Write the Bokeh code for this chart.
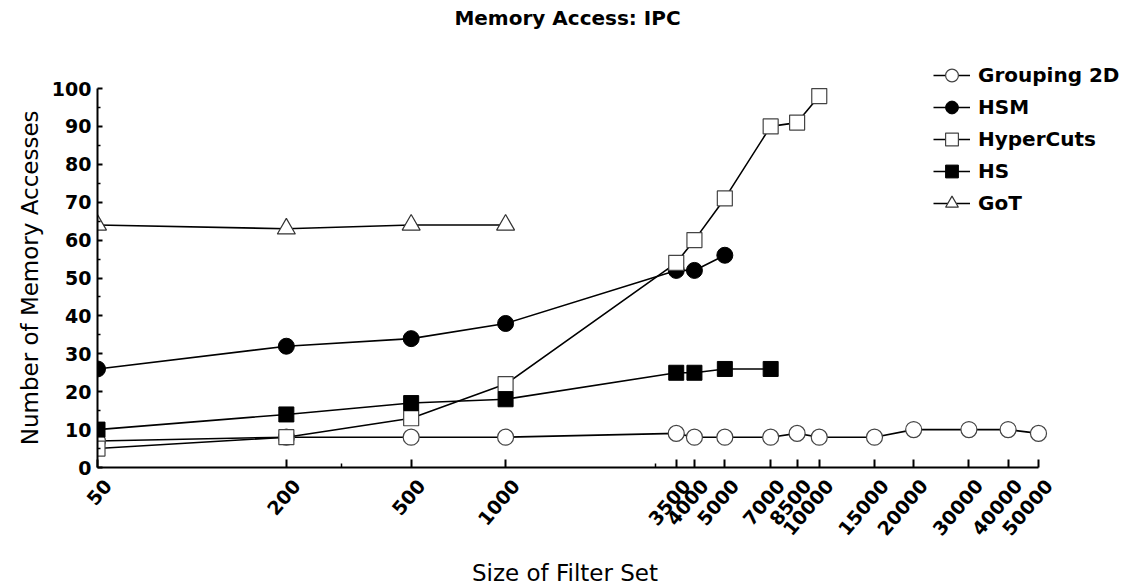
import math
from bokeh.plotting import figure
from bokeh.models import FixedTicker, Legend, LegendItem, Label
from bokeh.embed import file_html
from bokeh.resources import INLINE

# ---- data ----
title_text = "Memory Access: IPC"
x_ticks = [50, 200, 500, 1000, 3500, 4000, 5000, 7000, 8500, 10000, 15000, 20000, 30000, 40000, 50000]
x_minor = [300, 3000]
y_ticks = [0, 10, 20, 30, 40, 50, 60, 70, 80, 90, 100]
y_minor = [5, 15, 25, 35, 45, 55, 65, 75, 85, 95]

grp_x = [50, 200, 500, 1000, 3500, 4000, 5000, 7000, 8500, 10000, 15000, 20000, 30000, 40000, 50000]
grp_y = [7, 8, 8, 8, 9, 8, 8, 8, 9, 8, 8, 10, 10, 10, 9]

hsm_x = [50, 200, 500, 1000, 3500, 4000, 5000]
hsm_y = [26, 32, 34, 38, 52, 52, 56]

hc_x = [50, 200, 500, 1000, 3500, 4000, 5000, 7000, 8500, 10000]
hc_y = [5, 8, 13, 22, 54, 60, 71, 90, 91, 98]

hs_x = [50, 200, 500, 1000, 3500, 4000, 5000, 7000]
hs_y = [10, 14, 17, 18, 25, 25, 26, 26]

got_x = [50, 200, 500, 1000]
got_y = [64, 63, 64, 64]

FONT = "DejaVu Sans"
NB = "\u00a0"

# axis spans 941 px for 3 decades and 379 px for 0..100; the frame is extended
# to the right and upward so that the legend and title fit inside it
AX_W, AX_H = 941, 379
FR_W, FR_H = 1030, 467
x_end = 50 * 10 ** (3 * FR_W / AX_W)
y_end = 100 * FR_H / AX_H

p = figure(width=1127, height=585, output_backend="svg", toolbar_location=None,
           x_axis_type="log", x_range=(50, x_end), y_range=(0, y_end),
           frame_width=FR_W, frame_height=FR_H,
           min_border_left=97, min_border_right=0, min_border_top=0, min_border_bottom=118)
p.outline_line_color = None
p.xgrid.visible = False
p.ygrid.visible = False
p.background_fill_color = "white"

p.add_layout(Label(x=470, y=FR_H - 17, x_units="screen", y_units="screen", text=title_text,
                   text_align="center", text_baseline="middle", text_font=FONT,
                   text_font_style="bold", text_font_size="20px", text_color="black"))

# axes
p.xaxis.bounds = (50, 50000)
p.xaxis.ticker = FixedTicker(ticks=x_ticks, minor_ticks=x_minor)
p.xaxis.major_label_overrides = {t: "\n" + str(t) for t in x_ticks}
p.xaxis.major_label_orientation = 0.87
p.xaxis.major_tick_in = 8
p.xaxis.major_tick_out = 0
p.xaxis.minor_tick_in = 4
p.xaxis.minor_tick_out = 0
p.xaxis.major_label_standoff = 6
p.xaxis.major_label_text_font = FONT
p.xaxis.major_label_text_font_style = "bold"
p.xaxis.major_label_text_font_size = "19px"
p.xaxis.axis_label = "Size of Filter Set" + NB * 13
p.xaxis.axis_label_text_font = FONT
p.xaxis.axis_label_text_font_style = "normal"
p.xaxis.axis_label_text_font_size = "23px"
p.xaxis.axis_label_standoff = 2

p.yaxis.bounds = (0, 100)
p.yaxis.ticker = FixedTicker(ticks=y_ticks, minor_ticks=y_minor)
p.yaxis.major_tick_in = 5
p.yaxis.major_tick_out = 0
p.yaxis.minor_tick_in = 3
p.yaxis.minor_tick_out = 0
p.yaxis.major_label_standoff = 6
p.yaxis.major_label_text_font = FONT
p.yaxis.major_label_text_font_style = "bold"
p.yaxis.major_label_text_font_size = "19px"
# shift the label so that it is centred on the 0..100 span
p.yaxis.axis_label = "Number of Memory Accesses" + NB * 12
p.yaxis.axis_label_text_font = FONT
p.yaxis.axis_label_text_font_style = "normal"
p.yaxis.axis_label_text_font_size = "23px"
p.yaxis.axis_label_standoff = 6

for ax in (p.xaxis, p.yaxis):
    ax.axis_line_color = "black"
    ax.axis_line_width = 2
    ax.major_tick_line_color = "black"
    ax.major_tick_line_width = 2
    ax.minor_tick_line_color = "black"
    ax.minor_tick_line_width = 1.5
    ax.major_label_text_color = "black"
    ax.axis_label_text_color = "black"

LW = 1.6
items = []

l1 = p.line(grp_x, grp_y, line_color="black", line_width=LW)
m1 = p.scatter(grp_x, grp_y, marker="circle", size=16, fill_color="white", line_color="#444444", line_width=1.2)
items.append(LegendItem(label="Grouping 2D", renderers=[l1, m1]))

l2 = p.line(hsm_x, hsm_y, line_color="black", line_width=LW)
m2 = p.scatter(hsm_x, hsm_y, marker="circle", size=16, fill_color="black", line_color="black")
items.append(LegendItem(label="HSM", renderers=[l2, m2]))

l3 = p.line(hc_x, hc_y, line_color="black", line_width=LW)
m3 = p.scatter(hc_x, hc_y, marker="square", size=15, fill_color="white", line_color="#444444", line_width=1.2)
items.append(LegendItem(label="HyperCuts", renderers=[l3, m3]))

l4 = p.line(hs_x, hs_y, line_color="black", line_width=LW)
m4 = p.scatter(hs_x, hs_y, marker="square", size=15, fill_color="black", line_color="black")
items.append(LegendItem(label="HS", renderers=[l4, m4]))

l5 = p.line(got_x, got_y, line_color="black", line_width=LW)
m5 = p.scatter(got_x, got_y, marker="triangle", size=18, fill_color="white", line_color="#333333", line_width=1.2)
items.append(LegendItem(label="GoT", renderers=[l5, m5]))

legend = Legend(items=items, location=(836, 248), orientation="vertical",
                background_fill_alpha=0, border_line_alpha=0,
                label_text_font=FONT, label_text_font_style="bold", label_text_color="black",
                label_text_font_size="20px", label_height=32, glyph_width=37, glyph_height=32,
                spacing=0, padding=0, margin=0, label_standoff=8)
p.add_layout(legend, "center")

open("out.html", "w").write(file_html(p, INLINE))
